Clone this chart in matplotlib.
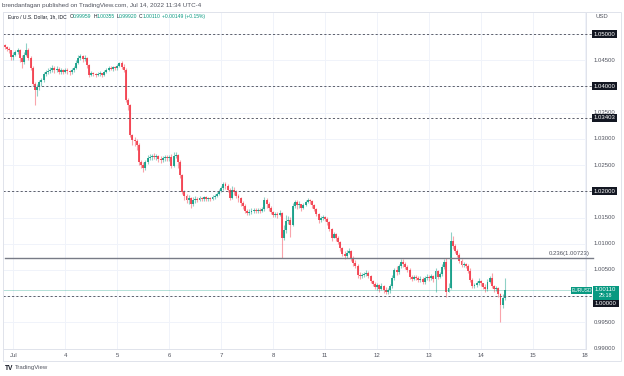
import numpy as np
import matplotlib.pyplot as plt
from matplotlib.patches import Rectangle

plt.rcParams['font.family'] = ['Liberation Sans', 'DejaVu Sans']

# EUR/USD hourly candles, Jun 30 20:00 -> Jul 14 11:00 (UTC-4)
first_open = 1.0479
closes = [
    1.0475, 1.0472, 1.0470, 1.0456, 1.0460, 1.0466, 1.0470, 1.0454, 1.0447, 1.0460, 1.0470, 1.0454,
    1.0435, 1.0405, 1.0393, 1.0399, 1.0409, 1.0412, 1.0424, 1.0428, 1.0430, 1.0431, 1.0435, 1.0431,
    1.0433, 1.0428, 1.0431, 1.0428, 1.0431, 1.0430, 1.0428, 1.0431, 1.0435, 1.0445, 1.0454, 1.0458,
    1.0452, 1.0454, 1.0441, 1.0422, 1.0426, 1.0424, 1.0422, 1.0424, 1.0426, 1.0422, 1.0428, 1.0431,
    1.0435, 1.0433, 1.0437, 1.0435, 1.0439, 1.0445, 1.0437, 1.0431, 1.0374, 1.0365, 1.0307, 1.0298,
    1.0296, 1.0288, 1.0256, 1.0250, 1.0244, 1.0256, 1.0264, 1.0265, 1.0267, 1.0265, 1.0267, 1.0262,
    1.0260, 1.0264, 1.0265, 1.0264, 1.0265, 1.0248, 1.0267, 1.0269, 1.0256, 1.0231, 1.0199, 1.0191,
    1.0183, 1.0187, 1.0176, 1.0183, 1.0185, 1.0183, 1.0187, 1.0185, 1.0189, 1.0185, 1.0187, 1.0185,
    1.0189, 1.0191, 1.0195, 1.0201, 1.0206, 1.0214, 1.0210, 1.0202, 1.0187, 1.0202, 1.0199, 1.0191,
    1.0187, 1.0178, 1.0172, 1.0162, 1.0159, 1.0161, 1.0162, 1.0164, 1.0162, 1.0164, 1.0162, 1.0166,
    1.0183, 1.0176, 1.0168, 1.0161, 1.0155, 1.0157, 1.0155, 1.0159, 1.0111, 1.0126, 1.0143, 1.0145,
    1.0136, 1.0172, 1.0180, 1.0174, 1.0176, 1.0168, 1.0174, 1.0180, 1.0183, 1.0181, 1.0174, 1.0166,
    1.0157, 1.0145, 1.0149, 1.0151, 1.0147, 1.0141, 1.0128, 1.0111, 1.0119, 1.0111, 1.0103, 1.0092,
    1.0080, 1.0077, 1.0082, 1.0086, 1.0073, 1.0063, 1.0057, 1.0040, 1.0038, 1.0040, 1.0042, 1.0044,
    1.0038, 1.0029, 1.0023, 1.0017, 1.0021, 1.0014, 1.0019, 1.0012, 1.0008, 1.0012, 1.0019, 1.0035,
    1.0050, 1.0046, 1.0057, 1.0065, 1.0061, 1.0056, 1.0050, 1.0036, 1.0033, 1.0036, 1.0035, 1.0031,
    1.0033, 1.0027, 1.0035, 1.0036, 1.0035, 1.0038, 1.0033, 1.0048, 1.0036, 1.0042, 1.0056, 1.0065,
    1.0008, 1.0016, 1.0105, 1.0096, 1.0086, 1.0078, 1.0067, 1.0059, 1.0061, 1.0057, 1.0048, 1.0031,
    1.0019, 1.0021, 1.0025, 1.0029, 1.0025, 1.0017, 1.0014, 1.0027, 1.0035, 1.0019, 1.0014, 1.0016,
    1.0004, 0.9983, 0.99959, 1.00110,
]
highs = [
    1.0481, 1.0477, 1.0475, 1.0470, 1.0466, 1.0470, 1.0473, 1.0472, 1.0460, 1.0466, 1.0483, 1.0473,
    1.0458, 1.0439, 1.0409, 1.0405, 1.0412, 1.0416, 1.0428, 1.0431, 1.0435, 1.0437, 1.0441, 1.0439,
    1.0439, 1.0437, 1.0435, 1.0433, 1.0435, 1.0435, 1.0431, 1.0435, 1.0439, 1.0451, 1.0460, 1.0462,
    1.0460, 1.0460, 1.0456, 1.0443, 1.0430, 1.0428, 1.0426, 1.0428, 1.0430, 1.0426, 1.0431, 1.0435,
    1.0439, 1.0439, 1.0439, 1.0439, 1.0443, 1.0447, 1.0449, 1.0443, 1.0435, 1.0378, 1.0367, 1.0309,
    1.0304, 1.0300, 1.0292, 1.0260, 1.0256, 1.0260, 1.0269, 1.0271, 1.0271, 1.0273, 1.0271, 1.0269,
    1.0267, 1.0267, 1.0269, 1.0269, 1.0269, 1.0271, 1.0275, 1.0275, 1.0271, 1.0260, 1.0233, 1.0202,
    1.0195, 1.0193, 1.0189, 1.0189, 1.0191, 1.0189, 1.0191, 1.0189, 1.0191, 1.0191, 1.0189, 1.0189,
    1.0193, 1.0195, 1.0199, 1.0204, 1.0210, 1.0218, 1.0218, 1.0214, 1.0206, 1.0210, 1.0208, 1.0202,
    1.0195, 1.0189, 1.0181, 1.0176, 1.0166, 1.0166, 1.0168, 1.0168, 1.0168, 1.0168, 1.0168, 1.0170,
    1.0189, 1.0187, 1.0180, 1.0172, 1.0162, 1.0161, 1.0161, 1.0164, 1.0161, 1.0136, 1.0155, 1.0153,
    1.0151, 1.0178, 1.0183, 1.0183, 1.0181, 1.0176, 1.0178, 1.0183, 1.0187, 1.0185, 1.0183, 1.0176,
    1.0168, 1.0159, 1.0153, 1.0155, 1.0153, 1.0151, 1.0143, 1.0130, 1.0122, 1.0120, 1.0115, 1.0105,
    1.0094, 1.0086, 1.0088, 1.0092, 1.0088, 1.0077, 1.0069, 1.0061, 1.0046, 1.0044, 1.0046, 1.0050,
    1.0048, 1.0040, 1.0031, 1.0027, 1.0025, 1.0023, 1.0025, 1.0021, 1.0017, 1.0016, 1.0023, 1.0040,
    1.0054, 1.0057, 1.0061, 1.0071, 1.0071, 1.0065, 1.0059, 1.0054, 1.0040, 1.0040, 1.0040, 1.0038,
    1.0038, 1.0036, 1.0038, 1.0042, 1.0040, 1.0042, 1.0040, 1.0054, 1.0050, 1.0046, 1.0061, 1.0071,
    1.0073, 1.0025, 1.0122, 1.0115, 1.0099, 1.0090, 1.0082, 1.0071, 1.0065, 1.0063, 1.0061, 1.0054,
    1.0035, 1.0025, 1.0029, 1.0035, 1.0031, 1.0025, 1.0023, 1.0033, 1.0038, 1.0044, 1.0021, 1.0019,
    1.0017, 1.0006, 1.0004, 1.00355,
]
lows = [
    1.0472, 1.0468, 1.0464, 1.0451, 1.0451, 1.0458, 1.0462, 1.0447, 1.0435, 1.0443, 1.0458, 1.0451,
    1.0431, 1.0401, 1.0365, 1.0382, 1.0393, 1.0401, 1.0409, 1.0420, 1.0424, 1.0426, 1.0428, 1.0426,
    1.0428, 1.0424, 1.0424, 1.0424, 1.0426, 1.0424, 1.0422, 1.0424, 1.0428, 1.0433, 1.0443, 1.0451,
    1.0447, 1.0449, 1.0435, 1.0418, 1.0420, 1.0420, 1.0418, 1.0420, 1.0420, 1.0418, 1.0420, 1.0426,
    1.0430, 1.0431, 1.0430, 1.0431, 1.0431, 1.0437, 1.0433, 1.0428, 1.0370, 1.0355, 1.0304, 1.0288,
    1.0286, 1.0279, 1.0250, 1.0244, 1.0237, 1.0241, 1.0252, 1.0260, 1.0260, 1.0262, 1.0260, 1.0256,
    1.0254, 1.0256, 1.0258, 1.0258, 1.0258, 1.0244, 1.0246, 1.0264, 1.0244, 1.0225, 1.0195, 1.0183,
    1.0178, 1.0176, 1.0168, 1.0172, 1.0178, 1.0180, 1.0181, 1.0181, 1.0181, 1.0181, 1.0181, 1.0181,
    1.0183, 1.0185, 1.0189, 1.0193, 1.0199, 1.0202, 1.0204, 1.0199, 1.0183, 1.0185, 1.0193, 1.0187,
    1.0180, 1.0172, 1.0166, 1.0159, 1.0155, 1.0155, 1.0157, 1.0159, 1.0159, 1.0159, 1.0159, 1.0161,
    1.0162, 1.0168, 1.0162, 1.0157, 1.0151, 1.0151, 1.0149, 1.0153, 1.0073, 1.0107, 1.0120, 1.0138,
    1.0113, 1.0134, 1.0168, 1.0166, 1.0168, 1.0162, 1.0166, 1.0172, 1.0178, 1.0176, 1.0168, 1.0162,
    1.0153, 1.0140, 1.0141, 1.0145, 1.0143, 1.0136, 1.0124, 1.0105, 1.0111, 1.0105, 1.0099, 1.0086,
    1.0077, 1.0071, 1.0073, 1.0080, 1.0067, 1.0057, 1.0054, 1.0035, 1.0033, 1.0035, 1.0036, 1.0038,
    1.0035, 1.0025, 1.0019, 1.0014, 1.0012, 1.0008, 1.0012, 1.0006, 1.0004, 1.0004, 1.0006, 1.0016,
    1.0031, 1.0040, 1.0042, 1.0054, 1.0056, 1.0052, 1.0046, 1.0033, 1.0029, 1.0031, 1.0031, 1.0027,
    1.0027, 1.0023, 1.0023, 1.0031, 1.0029, 1.0031, 1.0027, 1.0008, 1.0033, 1.0035, 1.0038, 1.0052,
    0.9998, 1.0008, 1.0014, 1.0090, 1.0082, 1.0075, 1.0063, 1.0056, 1.0056, 1.0054, 1.0044, 1.0027,
    1.0016, 1.0016, 1.0017, 1.0021, 1.0019, 1.0014, 1.0008, 1.0010, 1.0025, 1.0016, 1.0008, 1.0010,
    0.9998, 0.9951, 0.9977, 0.99920,
]
bars_before_jul1 = 4
bars_per_day = 24
day_labels = ['Jul', '4', '5', '6', '7', '8', '11', '12', '13', '14', '15', '18']

price_labels = [1.045, 1.035, 1.030, 1.025, 1.015, 1.010, 1.005, 0.995, 0.990]
grid_levels = [1.050, 1.045, 1.040, 1.035, 1.030, 1.025, 1.020, 1.015, 1.010, 1.005, 1.000, 0.995, 0.990]
dashed_levels = [1.05, 1.04, 1.03403, 1.02, 1.0]
fib_level = 1.00723
last_price = 1.00110

UP = '#089981'
DOWN = '#f23645'
TXT = '#131722'
GREY = '#787b86'
LBL = '#50535e'
FS = 4.3

W, H = 624, 376
fig = plt.figure(figsize=(W / 100, H / 100), dpi=100)


def box(x0, y0, w, h):
    # pixel box (from top-left) -> figure fraction
    return [x0 / W, 1 - (y0 + h) / H, w / W, h / H]


def pixel_rect(x0, y0, w, h, color, z=6):
    b = box(x0, y0, w, h)
    fig.add_artist(Rectangle((b[0], b[1]), b[2], b[3], transform=fig.transFigure,
                             fc=color, ec='none', zorder=z))


def fig_y(py):
    return 1 - py / H


fig.add_artist(Rectangle((3 / W, 1 - 361 / H), 618 / W, 349 / H, transform=fig.transFigure,
                         fill=False, ec='#e0e3eb', lw=0.7))
ax = fig.add_axes(box(3, 12, 583, 337))
ax.set_xlim(-4.76, 264.5)
ax.set_ylim(0.98991, 1.05421)
for s in ax.spines.values():
    s.set_color('#e0e3eb')
    s.set_linewidth(0.7)

# grid
ax.set_xticks([k * bars_per_day for k in range(len(day_labels))])
ax.set_yticks(grid_levels)
ax.tick_params(length=0, labelbottom=False, labelleft=False)
ax.grid(color='#f0f3fa', lw=0.7)
ax.set_axisbelow(True)

# candles
x = np.arange(len(closes)) - bars_before_jul1
c = np.array(closes)
o = np.array([first_open] + closes[:-1])
col = np.where(c >= o, UP, DOWN)
ax.vlines(x, lows, highs, colors=col, lw=0.8, alpha=0.45, zorder=3)
body = np.maximum(np.abs(c - o), 0.00008)
ax.bar(x, body, bottom=np.minimum(o, c), width=0.9, color=col, alpha=0.85, lw=0, zorder=4)

yt = ax.get_yaxis_transform()
xt = ax.get_xaxis_transform()

# horizontal levels
for lv in dashed_levels:
    ax.plot([0.0, 1.012], [lv, lv], transform=yt, color='#5d606b', lw=0.7,
            dashes=(2.2, 2.2), clip_on=False, zorder=5)
ax.plot([0.003, 1.012], [fib_level, fib_level], transform=yt, color=GREY, lw=1.0,
        clip_on=False, zorder=5)
ax.text(1.007, fib_level + 0.0004, '0.236(1.00723)', transform=yt, ha='right', va='bottom',
        fontsize=FS, color=LBL)
ax.plot([0.0, 0.978], [last_price, last_price], transform=yt, color=UP, lw=0.6, alpha=0.35,
        clip_on=False, zorder=5)

# price scale
lx = 1.0137
for p in price_labels:
    ax.text(lx, p, f'{p:.5f}', transform=yt, ha='left', va='center', fontsize=FS, color=LBL)
for lv in dashed_levels[:-1]:
    ax.text(lx, lv, f'{lv:.5f}', transform=yt, ha='left', va='center', fontsize=FS,
            color='white', bbox=dict(boxstyle='square,pad=0.25', fc=TXT, ec='none'), zorder=6)

# current price / countdown block and the shifted 1.00000 tag
pixel_rect(592.5, 285.5, 26, 14, UP, z=6)
fig.text(605.5 / W, fig_y(289.5), f'{last_price:.5f}', ha='center', va='center',
         fontsize=FS, color='white', zorder=7)
fig.text(605.5 / W, fig_y(295.8), '25:18', ha='center', va='center',
         fontsize=FS - 0.4, color='white', zorder=7)
pixel_rect(592.5, 300.3, 26, 6.6, TXT, z=6)
fig.text(605.5 / W, fig_y(303.6), '1.00000', ha='center', va='center',
         fontsize=FS, color='white', zorder=7)
pixel_rect(571, 286.5, 21, 7, UP, z=6)
fig.text(581.5 / W, fig_y(290), 'EURUSD', ha='center', va='center',
         fontsize=FS - 0.8, color='white', zorder=7)
fig.text(596 / W, fig_y(17), 'USD', fontsize=FS, color=LBL, va='center')

# time scale
for k, lab in enumerate(day_labels):
    ax.text(k * bars_per_day, -0.018, lab, transform=xt, ha='center', va='center',
            fontsize=FS, color=LBL)

# header
fig.text(2 / W, fig_y(6), 'brendanfagan published on TradingView.com, Jul 14, 2022 11:34 UTC-4',
         fontsize=4.5, color=LBL, va='center')
renderer = fig.canvas.get_renderer()
hy = fig_y(16.5)
hx = 7.5
pieces = [('Euro / U.S. Dollar, 1h, IDC', TXT, 3.0), ('O', TXT, 0), ('0.99959', UP, 1.5),
          ('H', TXT, 0), ('1.00355', UP, 1.5), ('L', TXT, 0), ('0.99920', UP, 1.5),
          ('C', TXT, 0), ('1.00110', UP, 1.8), ('+0.00149 (+0.15%)', UP, 0)]
for s, colr, gap in pieces:
    t = fig.text(hx / W, hy, s, fontsize=3.6, color=colr, va='center')
    hx += t.get_window_extent(renderer).width + gap

# footer
fig.text(5 / W, fig_y(368), 'TV', fontsize=FS + 0.5, fontweight='bold', color=TXT, va='center')
fig.text(15 / W, fig_y(368), 'TradingView', fontsize=FS, color=LBL, va='center')

fig.savefig('out.png', dpi=100)
